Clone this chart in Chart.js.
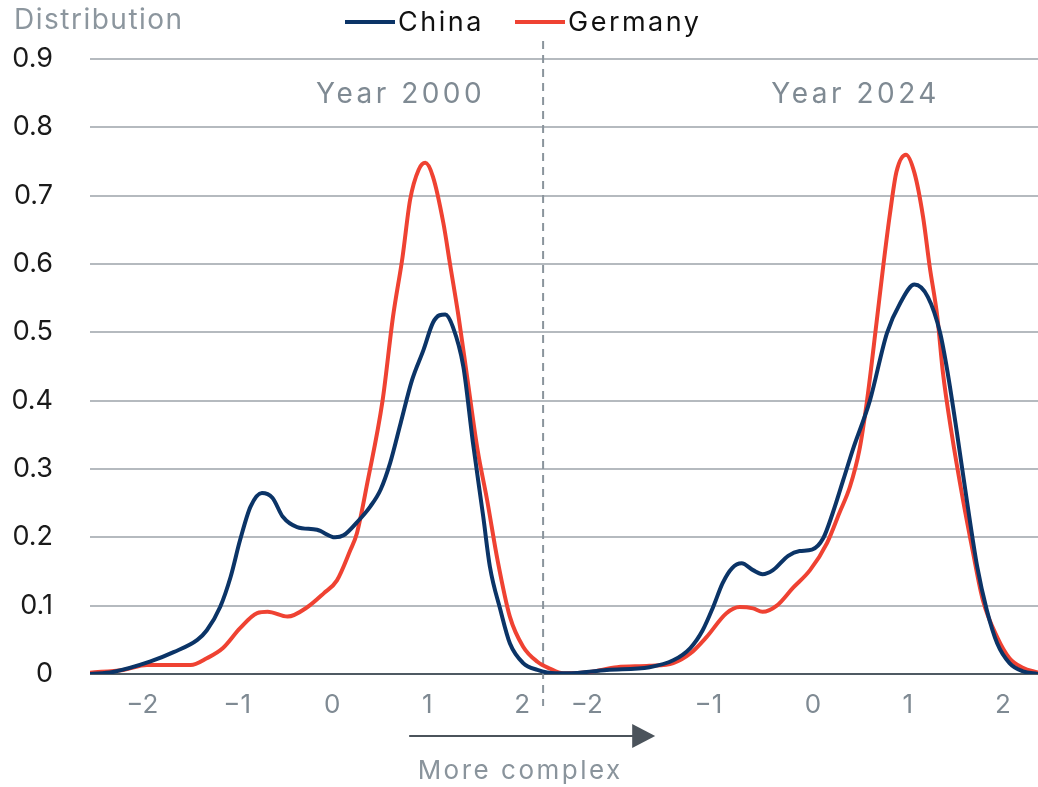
<!DOCTYPE html>
<html>
<head>
<meta charset="utf-8">
<script src="https://cdn.jsdelivr.net/npm/chart.js@4/dist/chart.umd.min.js"></script>
<style>
  html, body { margin: 0; padding: 0; background: #fff; }
  canvas { display: block; }
</style>
</head>
<body>
<canvas id="chart" width="1038" height="787"></canvas>
<script>
// standardized complexity score (z) and density, one array pair per panel
const china2000X = [-2.55, -2.31, -1.92, -1.67, -1.42, -1.32, -1.18, -1.07, -0.97, -0.86, -0.74, -0.63, -0.52, -0.37, -0.16, 0.03, 0.12, 0.26, 0.40, 0.51, 0.61, 0.72, 0.84, 0.96, 1.06, 1.13, 1.19, 1.27, 1.38, 1.48, 1.59, 1.66, 1.77, 1.87, 2.01, 2.16, 2.35];
const china2000Y = [0, 0.003, 0.018, 0.032, 0.05, 0.064, 0.098, 0.142, 0.196, 0.245, 0.265, 0.258, 0.23, 0.215, 0.211, 0.20, 0.203, 0.222, 0.245, 0.27, 0.309, 0.367, 0.43, 0.474, 0.514, 0.525, 0.526, 0.508, 0.45, 0.34, 0.23, 0.157, 0.094, 0.045, 0.016, 0.006, 0.001];

const germany2000X = [-2.55, -2.2, -1.95, -1.49, -1.32, -1.15, -0.97, -0.79, -0.68, -0.47, -0.26, -0.09, 0.05, 0.19, 0.26, 0.37, 0.53, 0.64, 0.74, 0.82, 0.91, 0.98, 1.06, 1.17, 1.24, 1.33, 1.42, 1.53, 1.63, 1.74, 1.87, 2.01, 2.16, 2.29, 2.43];
const germany2000Y = [0.002, 0.006, 0.013, 0.013, 0.023, 0.038, 0.067, 0.089, 0.091, 0.084, 0.098, 0.118, 0.137, 0.181, 0.206, 0.28, 0.40, 0.523, 0.61, 0.694, 0.738, 0.748, 0.728, 0.66, 0.60, 0.523, 0.435, 0.328, 0.255, 0.167, 0.084, 0.04, 0.018, 0.008, 0.001];

const china2024X = [-2.59, -2.17, -1.72, -1.47, -1.29, -1.16, -1.05, -0.95, -0.85, -0.75, -0.63, -0.53, -0.42, -0.26, -0.14, -0.01, 0.11, 0.21, 0.32, 0.42, 0.60, 0.78, 0.92, 1.07, 1.21, 1.34, 1.42, 1.52, 1.62, 1.73, 1.83, 1.94, 2.07, 2.21, 2.37];
const china2024Y = [0.001, 0.006, 0.01, 0.02, 0.038, 0.064, 0.098, 0.133, 0.155, 0.162, 0.152, 0.146, 0.152, 0.173, 0.18, 0.182, 0.199, 0.236, 0.284, 0.328, 0.40, 0.499, 0.543, 0.57, 0.552, 0.499, 0.44, 0.35, 0.255, 0.157, 0.094, 0.045, 0.016, 0.004, 0];

const germany2024X = [-2.59, -2.35, -2.06, -1.72, -1.47, -1.29, -1.12, -0.91, -0.77, -0.63, -0.53, -0.38, -0.21, -0.03, 0.15, 0.28, 0.39, 0.49, 0.57, 0.67, 0.74, 0.81, 0.88, 0.98, 1.07, 1.16, 1.23, 1.31, 1.37, 1.46, 1.58, 1.68, 1.79, 1.94, 2.07, 2.21, 2.37];
const germany2024Y = [0.001, 0.003, 0.01, 0.012, 0.016, 0.03, 0.054, 0.089, 0.098, 0.096, 0.091, 0.10, 0.126, 0.152, 0.192, 0.236, 0.274, 0.328, 0.40, 0.514, 0.596, 0.672, 0.735, 0.76, 0.733, 0.669, 0.596, 0.523, 0.44, 0.353, 0.255, 0.182, 0.108, 0.054, 0.023, 0.009, 0.002];

// the 2024 panel sits to the right of the 2000 panel on one shared axis
const panelShift = 5.06;
const panelSplit = 2.22;
const panelTitles = ['Year 2000', 'Year 2024'];

// tick labels, at the spots the original puts them (z within each panel)
const tickLabels = ['\u22122', '\u22121', '0', '1', '2'];
const ticks2000 = [-2, -1, 0, 1, 2];
const ticks2024 = [-2.38, -1.1, 0, 1, 2];

const yTicks = [0, 0.1, 0.2, 0.3, 0.4, 0.5, 0.6, 0.7, 0.8, 0.9];

const NAVY = '#0b3467';
const RED = '#ef4232';
const GRAY_TEXT = '#7f8a93';
const FONT = 'Inter, "Open Sans", sans-serif';

const toPoints = (xs, ys, shift) => xs.map((x, i) => ({ x: x + shift, y: ys[i] }));

const overlay = {
  id: 'overlay',
  beforeDatasetsDraw(chart) {
    const { ctx, chartArea, scales } = chart;
    const xs = scales.x.getPixelForValue(panelSplit);
    ctx.save();
    ctx.strokeStyle = '#8a949c';
    ctx.lineWidth = 2;
    ctx.setLineDash([8, 6]);
    ctx.beginPath();
    ctx.moveTo(xs, chartArea.top - 18);
    ctx.lineTo(xs, chartArea.bottom + 32);
    ctx.stroke();
    ctx.restore();
  },
  afterDraw(chart) {
    const { ctx, scales } = chart;
    ctx.save();
    ctx.textBaseline = 'middle';

    // y axis title
    ctx.fillStyle = '#8c969e';
    ctx.font = '28px ' + FONT;
    ctx.textAlign = 'left';
    ctx.letterSpacing = '1.5px';
    ctx.fillText('Distribution', 14, 21);

    // legend
    const legendX = [345, 515];
    chart.data.datasets.forEach((ds, i) => {
      const lx = legendX[i];
      ctx.strokeStyle = ds.borderColor;
      ctx.lineWidth = 4;
      ctx.beginPath();
      ctx.moveTo(lx, 22);
      ctx.lineTo(lx + 50, 22);
      ctx.stroke();
      ctx.fillStyle = '#111';
      ctx.font = '27px ' + FONT;
      ctx.letterSpacing = '2.5px';
      ctx.fillText(ds.label, lx + 53, 23);
    });

    // panel titles
    ctx.fillStyle = GRAY_TEXT;
    ctx.font = '28px ' + FONT;
    ctx.textAlign = 'center';
    ctx.letterSpacing = '3.5px';
    ctx.fillText(panelTitles[0], scales.x.getPixelForValue(0.72), 95);
    ctx.fillText(panelTitles[1], scales.x.getPixelForValue(0.45 + panelShift), 95);

    // direction arrow
    const a0 = scales.x.getPixelForValue(0.81);
    const a1 = scales.x.getPixelForValue(3.4);
    ctx.strokeStyle = '#4b535b';
    ctx.fillStyle = '#4b535b';
    ctx.lineWidth = 2;
    ctx.beginPath();
    ctx.moveTo(a0, 736);
    ctx.lineTo(a1 - 20, 736);
    ctx.stroke();
    ctx.beginPath();
    ctx.moveTo(a1 - 23, 724);
    ctx.lineTo(a1, 736);
    ctx.lineTo(a1 - 23, 748);
    ctx.closePath();
    ctx.fill();

    ctx.fillStyle = '#8a949c';
    ctx.font = '26px ' + FONT;
    ctx.letterSpacing = '2.5px';
    ctx.fillText('More complex', (a0 + a1) / 2 - 12, 771);
    ctx.restore();
  }
};

const ctx = document.getElementById('chart').getContext('2d');
new Chart(ctx, {
  type: 'line',
  data: {
    datasets: [{
      label: 'China',
      data: toPoints(china2000X, china2000Y, 0).concat(toPoints(china2024X, china2024Y, panelShift)),
      borderColor: NAVY,
      borderWidth: 4,
      pointRadius: 0,
      cubicInterpolationMode: 'monotone',
      fill: false
    }, {
      label: 'Germany',
      data: toPoints(germany2000X, germany2000Y, 0).concat(toPoints(germany2024X, germany2024Y, panelShift)),
      borderColor: RED,
      borderWidth: 4,
      pointRadius: 0,
      cubicInterpolationMode: 'monotone',
      fill: false
    }]
  },
  options: {
    responsive: false,
    animation: false,
    layout: {
      padding: { top: 59, right: 0, left: 0, bottom: 63 }
    },
    plugins: {
      legend: { display: false },
      tooltip: { enabled: false }
    },
    scales: {
      x: {
        type: 'linear',
        min: -2.55,
        max: 7.43,
        grid: { display: false },
        border: { display: false },
        afterBuildTicks: scale => {
          scale.ticks = ticks2000.concat(ticks2024.map(v => v + panelShift)).map(v => ({ value: v }));
        },
        afterFit: scale => { scale.height = 50; },
        ticks: {
          autoSkip: false,
          maxRotation: 0,
          padding: 8,
          color: GRAY_TEXT,
          font: { family: FONT, size: 26 },
          callback: (value, index) => tickLabels[index % tickLabels.length]
        }
      },
      y: {
        min: 0,
        max: 0.9,
        afterBuildTicks: scale => {
          scale.ticks = yTicks.map(v => ({ value: v }));
        },
        afterFit: scale => { scale.width = 90; },
        grid: {
          drawTicks: false,
          lineWidth: 2,
          color: c => c.tick.value === 0 ? '#4f5a63' : '#b5babf'
        },
        border: { display: false },
        ticks: {
          padding: 37,
          color: '#1a1a1a',
          font: { family: FONT, size: 27 },
          callback: value => String(value)
        }
      }
    }
  },
  plugins: [overlay]
});
</script>
</body>
</html>
